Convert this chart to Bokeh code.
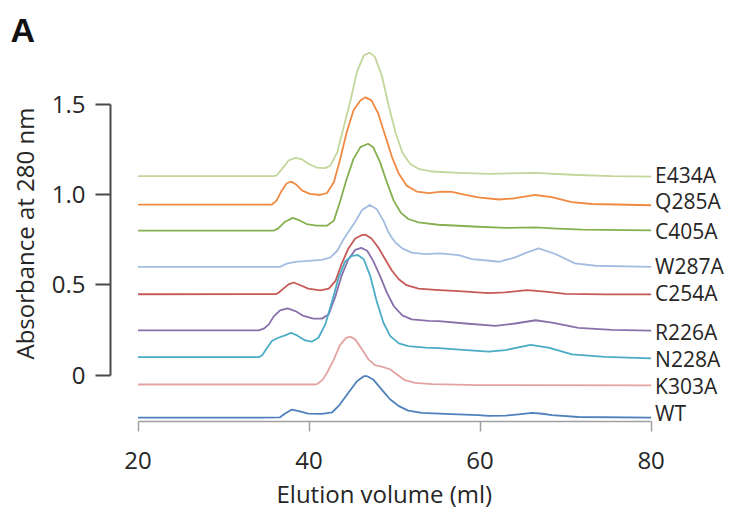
from bokeh.plotting import figure
from bokeh.models import FixedTicker, LabelSet, ColumnDataSource, Title
from bokeh.core.properties import value
from bokeh.embed import file_html
from bokeh.resources import INLINE

# ---- data (elution volume ml, absorbance) ----
series_names = ["E434A", "Q285A", "C405A", "W287A", "C254A", "R226A", "N228A", "K303A", "WT"]
series_colors = ["#c3d69b", "#f08a42", "#86b050", "#a3bde0", "#c55a57", "#8a70aa", "#4bacc6", "#e3a3a2", "#4f81bd"]
label_y = [1.11, 0.965, 0.80, 0.605, 0.455, 0.24, 0.09, -0.06, -0.212]

e434a_x = [20, 35.8, 36.2, 37.0, 37.6, 38.4, 39.2, 39.9, 40.9, 41.9, 42.5, 43.3, 44.0, 44.8, 45.6, 46.4, 47.1, 47.7, 48.5, 49.3, 50.1, 50.9, 51.8, 52.8, 54.4, 57.5, 61.0, 66.5, 70.7, 75.4, 80]
e434a_y = [1.102, 1.102, 1.106, 1.152, 1.189, 1.204, 1.195, 1.171, 1.150, 1.147, 1.161, 1.235, 1.365, 1.513, 1.680, 1.772, 1.787, 1.763, 1.661, 1.495, 1.346, 1.235, 1.171, 1.143, 1.128, 1.121, 1.115, 1.121, 1.110, 1.102, 1.100]

q285a_x = [20, 35.65, 36.2, 36.8, 37.4, 37.9, 38.5, 39.2, 40.1, 41.3, 42.1, 42.9, 43.6, 44.4, 45.2, 46.0, 46.6, 47.3, 48.1, 48.9, 49.7, 50.5, 51.4, 52.6, 54.0, 55.5, 56.7, 58.3, 59.8, 62.2, 64.1, 66.5, 68.4, 70.7, 73.1, 80]
q285a_y = [0.945, 0.945, 0.967, 1.022, 1.063, 1.072, 1.056, 1.022, 1.004, 0.998, 1.009, 1.069, 1.189, 1.346, 1.467, 1.522, 1.539, 1.522, 1.448, 1.328, 1.208, 1.115, 1.050, 1.017, 1.008, 1.017, 1.015, 0.998, 0.985, 0.973, 0.980, 0.998, 0.986, 0.958, 0.948, 0.941]

c405a_x = [20, 35.85, 36.4, 37.2, 38.1, 38.8, 39.7, 40.9, 42.1, 42.9, 43.6, 44.4, 45.2, 46.0, 46.9, 47.5, 48.3, 49.1, 49.9, 50.7, 51.6, 52.8, 55.1, 59.8, 63.0, 66.5, 69.0, 72.0, 80]
c405a_y = [0.80, 0.80, 0.813, 0.850, 0.871, 0.859, 0.837, 0.828, 0.828, 0.856, 0.958, 1.087, 1.198, 1.263, 1.282, 1.263, 1.180, 1.069, 0.967, 0.902, 0.865, 0.846, 0.833, 0.822, 0.816, 0.818, 0.812, 0.806, 0.802]

w287a_x = [20, 36.6, 37.4, 38.4, 39.9, 41.5, 42.5, 43.3, 44.0, 44.7, 45.4, 46.2, 47.1, 47.9, 48.7, 49.2, 49.7, 50.1, 50.9, 52.0, 53.6, 55.3, 57.5, 59.05, 60.8, 62.2, 64.1, 65.5, 66.85, 68.8, 71.1, 73.5, 80]
w287a_y = [0.60, 0.60, 0.618, 0.627, 0.633, 0.639, 0.652, 0.689, 0.750, 0.800, 0.850, 0.915, 0.943, 0.920, 0.856, 0.80, 0.76, 0.735, 0.702, 0.679, 0.670, 0.674, 0.665, 0.643, 0.635, 0.628, 0.652, 0.680, 0.702, 0.671, 0.619, 0.606, 0.600]

c254a_x = [20, 36.1, 36.4, 37.0, 37.6, 38.2, 39.0, 39.9, 41.3, 42.3, 43.1, 43.8, 44.6, 45.4, 46.2, 46.6, 47.3, 48.1, 48.9, 49.7, 50.5, 51.4, 52.8, 54.75, 57.5, 61.0, 62.95, 65.5, 67.6, 70.0, 74.6, 80]
c254a_y = [0.448, 0.449, 0.455, 0.479, 0.503, 0.513, 0.498, 0.479, 0.470, 0.479, 0.522, 0.615, 0.702, 0.757, 0.776, 0.778, 0.757, 0.707, 0.642, 0.578, 0.531, 0.498, 0.479, 0.472, 0.465, 0.454, 0.458, 0.471, 0.462, 0.450, 0.447, 0.447]

r226a_x = [20, 34.1, 34.7, 35.3, 35.85, 36.6, 37.5, 38.4, 39.35, 40.5, 41.5, 42.3, 43.1, 43.8, 44.6, 45.4, 46.1, 46.8, 47.5, 48.3, 49.1, 49.9, 50.9, 52.0, 54.0, 55.15, 58.3, 61.8, 64.1, 66.5, 68.4, 71.5, 75.4, 80]
r226a_y = [0.248, 0.248, 0.257, 0.281, 0.324, 0.359, 0.370, 0.355, 0.328, 0.313, 0.313, 0.337, 0.439, 0.550, 0.642, 0.694, 0.705, 0.689, 0.633, 0.550, 0.457, 0.383, 0.331, 0.309, 0.300, 0.299, 0.286, 0.273, 0.286, 0.304, 0.291, 0.262, 0.251, 0.247]

n228a_x = [20, 34.1, 34.5, 35.1, 35.65, 36.4, 37.2, 37.9, 38.6, 39.55, 40.3, 41.1, 41.9, 42.7, 43.45, 44.2, 45.0, 45.7, 46.4, 47.15, 47.9, 48.7, 49.5, 50.5, 51.6, 53.6, 55.15, 58.0, 61.0, 62.95, 65.9, 68.0, 70.75, 74.6, 80]
n228a_y = [0.10, 0.10, 0.109, 0.152, 0.189, 0.207, 0.220, 0.235, 0.220, 0.192, 0.185, 0.207, 0.281, 0.411, 0.540, 0.628, 0.661, 0.665, 0.642, 0.550, 0.411, 0.290, 0.216, 0.176, 0.161, 0.152, 0.150, 0.140, 0.130, 0.139, 0.167, 0.152, 0.115, 0.101, 0.093]

k303a_x = [20, 40.7, 41.0, 41.6, 42.1, 42.9, 43.6, 44.3, 44.8, 45.4, 46.2, 46.95, 47.7, 48.7, 49.5, 50.3, 51.2, 52.4, 54.4, 59.8, 80]
k303a_y = [-0.052, -0.052, -0.048, -0.025, 0.013, 0.087, 0.165, 0.205, 0.213, 0.198, 0.142, 0.087, 0.055, 0.044, 0.031, 0.003, -0.028, -0.043, -0.050, -0.055, -0.057]

wt_x = [20, 34.1, 36.6, 37.2, 38.0, 38.8, 39.9, 41.5, 42.7, 43.6, 44.6, 45.6, 46.4, 46.8, 47.5, 48.5, 49.5, 50.5, 51.6, 53.2, 55.9, 59.8, 61.0, 62.95, 64.5, 66.1, 67.3, 68.4, 71.5, 80]
wt_y = [-0.235, -0.236, -0.234, -0.213, -0.191, -0.200, -0.213, -0.215, -0.206, -0.163, -0.098, -0.034, -0.006, -0.006, -0.024, -0.080, -0.135, -0.172, -0.197, -0.209, -0.215, -0.222, -0.226, -0.224, -0.217, -0.209, -0.214, -0.222, -0.232, -0.235]

x_ticks = [20, 40, 60, 80]
y_ticks = [0, 0.5, 1.0, 1.5]
y_tick_labels = ["0", "0.5", "1.0", "1.5"]

all_x = [e434a_x, q285a_x, c405a_x, w287a_x, c254a_x, r226a_x, n228a_x, k303a_x, wt_x]
all_y = [e434a_y, q285a_y, c405a_y, w287a_y, c254a_y, r226a_y, n228a_y, k303a_y, wt_y]

FONT = "Open Sans"
TEXT = "#262626"

p = figure(width=725, height=519, x_range=(16.78, 88.7), y_range=(-0.257, 1.865),
           output_backend="svg", toolbar_location=None,
           min_border_left=110, min_border_right=0, min_border_top=38, min_border_bottom=98)
p.outline_line_color = None
p.xgrid.visible = False
p.ygrid.visible = False

# panel letter as the title, pushed left over the axis area
p.title.text = "A"
p.title.align = "left"
p.title.offset = -100
p.title.standoff = -20
p.title.text_font = "Liberation Sans"
p.title.text_font_size = "34px"
p.title.text_font_style = "bold"
p.title.text_color = "#111111"

for xs, ys, c in zip(all_x, all_y, series_colors):
    p.line(xs, ys, line_color=c, line_width=1.8, line_join="round")

src = ColumnDataSource(dict(x=[xs[-1] for xs in all_x], y=label_y, t=series_names))
p.add_layout(LabelSet(x="x", y="y", text="t", source=src, x_offset=4, text_baseline="middle",
                      text_font=value(FONT), text_font_size="21px", text_color=TEXT))

# y axis
ya = p.yaxis[0]
ya.ticker = FixedTicker(ticks=y_ticks)
ya.bounds = (y_ticks[0], y_ticks[-1])
ya.major_label_overrides = {t: s for t, s in zip(y_ticks, y_tick_labels)}
ya.axis_line_color = "#4a4a4a"
ya.axis_line_width = 2
ya.major_tick_line_color = "#4a4a4a"
ya.major_tick_line_width = 2
ya.major_tick_out = 15
ya.major_tick_in = 0
ya.minor_tick_out = 0
ya.minor_tick_in = 0
ya.major_label_standoff = 10
ya.major_label_text_font = FONT
ya.major_label_text_font_size = "24px"
ya.major_label_text_color = TEXT

# x axis
xa = p.xaxis[0]
xa.ticker = FixedTicker(ticks=x_ticks)
xa.bounds = (x_ticks[0], x_ticks[-1])
xa.axis_line_color = "#a0a0a0"
xa.axis_line_width = 1.5
xa.major_tick_line_color = "#a0a0a0"
xa.major_tick_line_width = 1.5
xa.major_tick_out = 10
xa.major_tick_in = 0
xa.minor_tick_out = 0
xa.minor_tick_in = 0
xa.major_label_standoff = 20
xa.major_label_text_font = FONT
xa.major_label_text_font_size = "24px"
xa.major_label_text_color = TEXT

# axis titles, placed as side titles so they can sit where the reference has them
p.add_layout(Title(text="Elution volume (ml)", align="left", offset=166, standoff=6,
                   vertical_align="bottom", text_font=FONT, text_font_size="24px",
                   text_font_style="normal", text_color=TEXT), "below")
p.add_layout(Title(text="Absorbance at 280 nm", align="left", offset=62, standoff=13,
                   vertical_align="middle", text_font=FONT, text_font_size="24px",
                   text_font_style="normal", text_color=TEXT), "left")

open("out.html", "w").write(file_html(p, INLINE))
